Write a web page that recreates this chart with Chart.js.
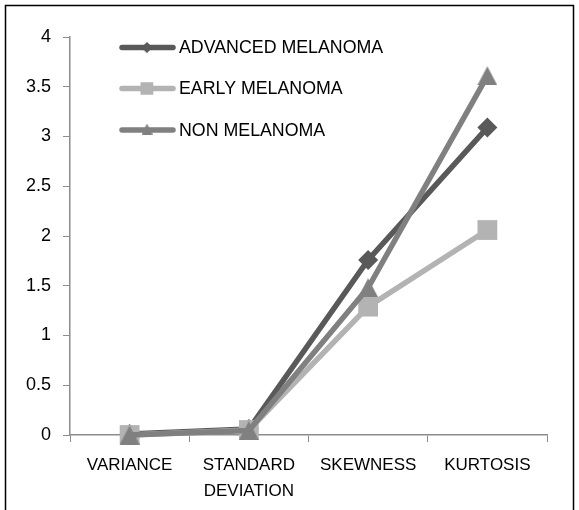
<!DOCTYPE html>
<html>
<head>
<meta charset="utf-8">
<script src="https://cdn.jsdelivr.net/npm/chart.js@4/dist/chart.umd.min.js"></script>
<style>
  html, body { margin: 0; padding: 0; background: #fff; }
  #wrap { position: relative; width: 579px; height: 510px; }
  canvas { display: block; }
</style>
</head>
<body>
<div id="wrap"><canvas id="c" width="579" height="510"></canvas></div>
<script>
// ---- data ----
const categories = [['VARIANCE'], ['STANDARD', 'DEVIATION'], ['SKEWNESS'], ['KURTOSIS']];
const seriesNames = ['ADVANCED MELANOMA', 'EARLY MELANOMA', 'NON MELANOMA'];
const advancedMelanoma = [0.01, 0.06, 1.76, 3.09];
const earlyMelanoma = [0.00, 0.05, 1.29, 2.06];
const nonMelanoma = [0.00, 0.045, 1.48, 3.61];
const yTickValues = [0, 0.5, 1, 1.5, 2, 2.5, 3, 3.5, 4];

// ---- styles ----
const FONT = '"Liberation Sans", Arial, sans-serif';
const colors = ['#595959', '#b3b3b3', '#808080'];
const seriesData = [advancedMelanoma, earlyMelanoma, nonMelanoma];

// triangle marker centred on its bounding box (like the original)
function triangleImage(w, h, color) {
  const cv = document.createElement('canvas');
  cv.width = w; cv.height = h;
  const c = cv.getContext('2d');
  c.fillStyle = color;
  c.beginPath();
  c.moveTo(w / 2, 0);
  c.lineTo(w, h);
  c.lineTo(0, h);
  c.closePath();
  c.fill();
  return cv;
}

const pointStyles = ['rectRot', 'rect', triangleImage(20, 19, colors[2])];
const pointRadii = [10, 14, 10];
const legendStyles = ['rectRot', 'rect', triangleImage(11, 11, colors[2])];
const legendRadii = [5.3, 8.5, 6];

const datasets = seriesNames.map((name, i) => ({
  label: name,
  data: seriesData[i],
  borderColor: colors[i],
  backgroundColor: colors[i],
  pointBackgroundColor: colors[i],
  pointBorderColor: colors[i],
  pointBorderWidth: 0,
  borderWidth: 5.5,
  pointStyle: pointStyles[i],
  pointRadius: pointRadii[i],
  pointHoverRadius: pointRadii[i],
  tension: 0,
  clip: false,
  order: 3 - i
}));

const framePlugin = {
  id: 'frame',
  afterDraw(chart) {
    const ctx = chart.ctx;
    ctx.save();
    ctx.strokeStyle = '#000';
    ctx.lineWidth = 1.5;
    ctx.beginPath();
    ctx.moveTo(5.5, 520);
    ctx.lineTo(5.5, 5.5);
    ctx.lineTo(573.5, 5.5);
    ctx.lineTo(573.5, 520);
    ctx.stroke();
    ctx.restore();
  }
};

const legendPlugin = {
  id: 'customLegend',
  afterDraw(chart) {
    const ctx = chart.ctx;
    const ys = [47.5, 88.5, 130];
    ctx.save();
    chart.data.datasets.forEach((ds, i) => {
      const y = ys[i];
      ctx.strokeStyle = ds.borderColor;
      ctx.lineWidth = 5.5;
      ctx.lineCap = 'round';
      ctx.beginPath();
      ctx.moveTo(122, y);
      ctx.lineTo(173, y);
      ctx.stroke();
      ctx.fillStyle = ds.backgroundColor;
      ctx.strokeStyle = ds.backgroundColor;
      ctx.lineWidth = 0.5;
      Chart.helpers.drawPoint(ctx, { pointStyle: legendStyles[i], radius: legendRadii[i], borderWidth: 0.5, rotation: 0 }, 147, i === 2 ? y - 1 : y);
      ctx.fillStyle = '#000';
      ctx.font = '17.8px ' + FONT;
      ctx.textBaseline = 'middle';
      ctx.textAlign = 'left';
      ctx.fillText(ds.label, 179, y + 1);
    });
    ctx.restore();
  }
};

new Chart(document.getElementById('c'), {
  type: 'line',
  data: { labels: categories, datasets },
  options: {
    responsive: false,
    animation: false,
    events: [],
    layout: { padding: { top: 37, right: 32, left: 0, bottom: 0 } },
    plugins: { legend: { display: false }, tooltip: { enabled: false } },
    scales: {
      x: {
        type: 'category',
        offset: true,
        grid: { display: true, drawOnChartArea: false, drawTicks: true, tickLength: 7, color: '#8c8c8c', offset: true },
        border: { display: true, color: '#8c8c8c', width: 1.5 },
        ticks: { color: '#000', font: { family: FONT, size: 17, lineHeight: 1.55 }, padding: 10, maxRotation: 0, autoSkip: false },
        afterFit(scale) { scale.height = 75; }
      },
      y: {
        min: 0,
        max: 4,
        afterBuildTicks(scale) { scale.ticks = yTickValues.map(v => ({ value: v })); },
        grid: { display: true, drawOnChartArea: false, drawTicks: true, tickLength: 7, color: '#8c8c8c' },
        border: { display: true, color: '#8c8c8c', width: 1.5 },
        ticks: { color: '#000', font: { family: FONT, size: 18 }, padding: 12, callback: (v) => String(v) },
        afterFit(scale) { scale.width = 70; }
      }
    }
  },
  plugins: [framePlugin, legendPlugin]
});
</script>
</body>
</html>
